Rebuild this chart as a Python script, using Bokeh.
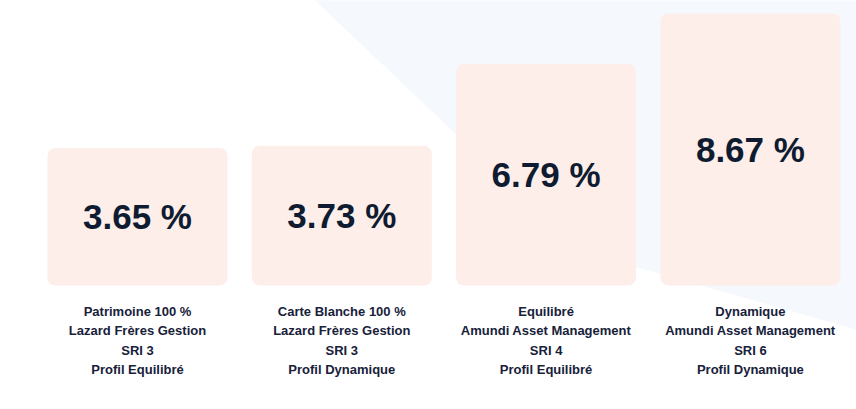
import numpy as np
from bokeh.plotting import figure
from bokeh.models import Range1d, ColumnDataSource
from bokeh.core.properties import value
from bokeh.embed import file_html
from bokeh.resources import INLINE

# ---- data ----
funds = ["Patrimoine 100 %", "Carte Blanche 100 %", "Equilibré", "Dynamique"]
managers = ["Lazard Frères Gestion", "Lazard Frères Gestion",
            "Amundi Asset Management", "Amundi Asset Management"]
sri = ["SRI 3", "SRI 3", "SRI 4", "SRI 6"]
profiles = ["Profil Equilibré", "Profil Dynamique", "Profil Equilibré", "Profil Dynamique"]
performance = [3.65, 3.73, 6.79, 8.67]

# ---- layout ----
W, H = 856, 409
PX_X = 204.3          # pixels per category step
X0 = -137 / PX_X
PX_Y = 26.8           # pixels per % unit
BASE = -1.48          # bar floor (value units)
Y0 = BASE - 124 / PX_Y

x_range = Range1d(X0, X0 + W / PX_X)
y_range = Range1d(Y0, Y0 + H / PX_Y)

p = figure(width=W, height=H, x_range=x_range, y_range=y_range,
           output_backend="svg", toolbar_location=None, min_border=0,
           x_axis_location=None, y_axis_location=None)
p.grid.visible = False
p.outline_line_color = None
p.background_fill_color = "white"
p.border_fill_color = "white"


def page_to_data(pts):
    xs = [X0 + px / PX_X for px, py in pts]
    ys = [Y0 + (H - py) / PX_Y for px, py in pts]
    return xs, ys


# decorative background shape (page pixel style geometry)
bg_pts = [(304, -10), (870, -10), (870, 333), (605, 258), (590, 256), (579, 251)]
bx, by = page_to_data(bg_pts)
p.patch(bx, by, fill_color="#f5f8fc", line_color=None)

xpos = np.arange(len(performance))
src = ColumnDataSource(dict(
    x=xpos,
    perf=performance,
    mid=[(BASE + v) / 2 for v in performance],
    label=[f"{v:.2f} %" for v in performance],
    funds=funds, managers=managers, sri=sri, profiles=profiles,
))

p.vbar(x="x", width=180 / PX_X, bottom=BASE, top="perf", source=src,
       fill_color="#fdeee9", line_color=None, border_radius=8)

p.text(x="x", y="mid", text="label", source=src,
       text_font=value("Liberation Sans"), text_font_style="bold",
       text_font_size="35px", text_color="#0e1b30",
       text_align="center", text_baseline="middle")

for j, col in enumerate(["funds", "managers", "sri", "profiles"]):
    p.text(x="x", y=BASE, text=col, source=src, y_offset=25.7 + 19.5 * j,
           text_font=value("Liberation Sans"), text_font_style="bold",
           text_font_size="13px", text_color="#17213a",
           text_align="center", text_baseline="middle")

open("out.html", "w").write(file_html(p, INLINE))
